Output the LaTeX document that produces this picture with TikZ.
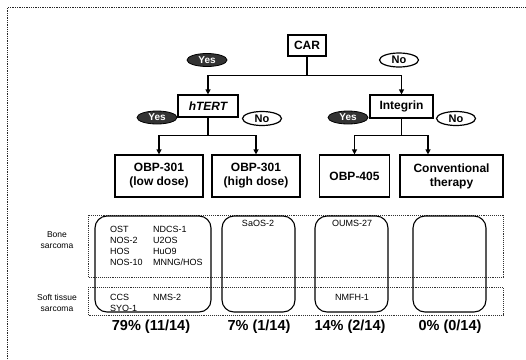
\documentclass[tikz,border=0pt]{standalone}
\usepackage{fontspec}
\setmainfont{Liberation Sans}
\usetikzlibrary{arrows.meta,shapes.geometric}
\begin{document}
\begin{tikzpicture}[x=1pt,y=-1pt,
  box/.style={draw,line width=1.2pt,inner sep=1pt,align=center,font=\fontsize{12}{14}\selectfont\bfseries},
  res/.style={box,minimum height=42pt},
  yes/.style={ellipse,fill=black!80,draw=black,line width=0.8pt,inner sep=0pt,minimum width=40pt,minimum height=13pt,text=white!70,font=\fontsize{10}{10}\selectfont\bfseries},
  no/.style={ellipse,draw,line width=1.2pt,inner sep=0pt,minimum width=39pt,minimum height=14pt,font=\fontsize{11}{11}\selectfont\bfseries},
  arr/.style={line width=1.2pt,-{Triangle[width=5pt,length=5pt]}},
  band/.style={draw=black!80,densely dotted,line width=0.9pt},
  cell/.style={draw,line width=1.1pt,rounded corners=12pt,minimum height=96pt},
  sm/.style={font=\fontsize{9}{11}\selectfont,inner sep=0pt},
  lab/.style={font=\fontsize{8.5}{11}\selectfont,align=center,inner sep=0pt},
  pct/.style={font=\fontsize{14.5}{15}\selectfont\bfseries,inner sep=0pt}]
\useasboundingbox (0,0) rectangle (526,359);
\fill[white] (0,0) rectangle (526,359);
\draw[black!85,densely dotted,line width=1.3pt] (7.5,359) -- (7.5,7.5) -- (526,7.5);

% tree
\node[box,minimum width=38pt,minimum height=21pt] (car) at (307,45.5) {CAR};
\node[box,minimum width=60pt,minimum height=22pt] (htert) at (208,106) {\itshape hTERT};
\node[box,minimum width=63pt,minimum height=23pt] (integ) at (401.5,106.5) {Integrin};
\node[res,minimum width=88pt] (low) at (159,176) {OBP-301\\(low dose)};
\node[res,minimum width=88pt] (high) at (256,176) {OBP-301\\(high dose)};
\node[res,minimum width=70pt] (obp405) at (354.5,176) {OBP-405};
\node[res,minimum width=103pt] (conv) at (451.5,176) {Conventional\\therapy};

\node[yes] (y1) at (207,60) {Yes};
\node[no] (n1) at (399,60) {No};
\node[yes] (y2) at (157,117.5) {Yes};
\node[no] (n2) at (262,118.5) {No};
\node[yes] (y3) at (348,117.5) {Yes};
\node[no] (n3) at (456,118.5) {No};

\draw[arr] (car.south) -- ++(0,19) -| (htert.north);
\draw[arr] (car.south) -- ++(0,19) -| (integ.north);
\draw[arr] (htert.south) -- ++(0,18) -| (low.north);
\draw[arr] (htert.south) -- ++(0,18) -| (high.north);
\draw[arr] (integ.south) -- ++(0,17) -| (obp405.north);
\draw[arr] (integ.south) -- ++(0,17) -| ([xshift=-23.5pt]conv.north);

% bands
\draw[band] (88,215) rectangle (503,277);
\draw[band] (88,287) rectangle (503,315);
\node[lab] (bone) at (57,240) {Bone\\sarcoma};
\node[lab] (soft) at (57,302.5) {Soft tissue\\sarcoma};

\node[cell,minimum width=116pt] (c1) at (153,264) {};
\node[cell,minimum width=73pt] (c2) at (258.5,264) {};
\node[cell,minimum width=73pt] (c3) at (351.5,264) {};
\node[cell,minimum width=73pt] (c4) at (449.5,264) {};

\node[sm,anchor=west] (t1) at (110,229) {OST};
\node[sm,anchor=west] (t2) at (110,240) {NOS-2};
\node[sm,anchor=west] (t3) at (110,251) {HOS};
\node[sm,anchor=west] (t4) at (110,262.5) {NOS-10};
\node[sm,anchor=west] (t5) at (153,229) {NDCS-1};
\node[sm,anchor=west] (t6) at (153,240) {U2OS};
\node[sm,anchor=west] (t7) at (153,251) {HuO9};
\node[sm,anchor=west] (t8) at (153,262.5) {MNNG/HOS};
\node[sm,anchor=west] (t9) at (110,297) {CCS};
\node[sm,anchor=west] (t10) at (110,308) {SYO-1};
\node[sm,anchor=west] (t11) at (153,297) {NMS-2};
\node[sm] (t12) at (258,223) {SaOS-2};
\node[sm] (t13) at (352,223) {OUMS-27};
\node[sm] (t14) at (352,297) {NMFH-1};

\node[pct] (p1) at (151,327) {79\% (11/14)};
\node[pct] (p2) at (259,327) {7\% (1/14)};
\node[pct] (p3) at (350,327) {14\% (2/14)};
\node[pct] (p4) at (450,327) {0\% (0/14)};
\end{tikzpicture}
\end{document}
